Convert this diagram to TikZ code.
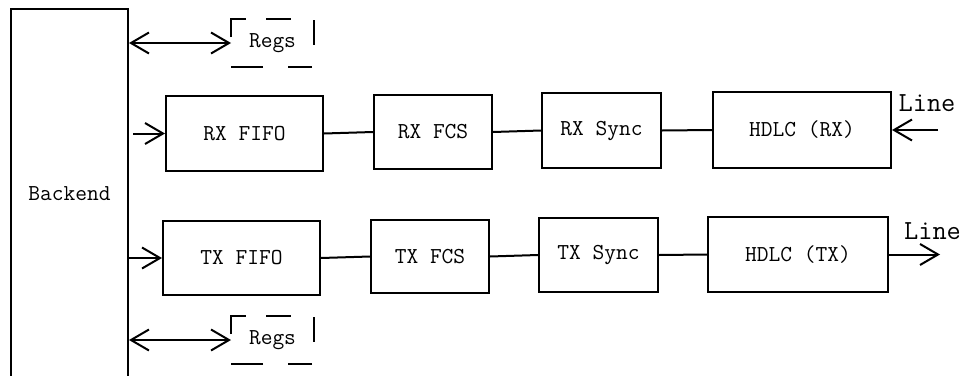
\documentclass[tikz,border=0pt]{standalone}
\usetikzlibrary{arrows.meta,calc}
\begin{document}
\begin{tikzpicture}[x=1pt,y=-1pt,line width=2pt,
  blk/.style={draw,inner sep=0pt,font=\ttfamily\fontsize{22.8}{26}\selectfont},
  regbox/.style={inner sep=0pt,minimum width=81pt,minimum height=46pt,font=\ttfamily\fontsize{22.8}{26}\selectfont},
  lbl/.style={inner sep=0pt,font=\ttfamily\fontsize{27.6}{31}\selectfont},
  regdash/.style={dash pattern=on 25pt off 20pt on 25pt off 24pt on 25pt off 24pt on 24pt off 25pt on 32pt off 30pt},
  sarr/.style={-{Straight Barb[length=18pt,width=21pt]}},
  darr/.style={{Straight Barb[length=18pt,width=21pt]}-{Straight Barb[length=18pt,width=21pt]}}]
\useasboundingbox (0,0) rectangle (966,375);
\clip (0,0) rectangle (966,375);
% backend
\node[blk,minimum width=117pt,minimum height=370pt] (be) at (69.5,194) {Backend};
% regs
\node[regbox] (regsA) at (272.5,43) {Regs};
\node[regbox] (regsB) at (272.5,340) {Regs};
\draw[regdash] (regsA.north west) ++(0,10) -- (regsA.north west) -- (regsA.north east) -- (regsA.south east) -- (regsA.south west) -- cycle;
\draw[regdash] (regsB.north west) ++(0,10) -- (regsB.north west) -- (regsB.north east) -- (regsB.south east) -- (regsB.south west) -- cycle;
\draw[darr] (be.east |- regsA.west) -- (regsA.west);
\draw[darr] (be.east |- regsB.west) -- (regsB.west);
% RX chain
\node[blk,minimum width=157pt,minimum height=75pt] (rxfifo) at (244.5,133.5) {RX FIFO};
\node[blk,minimum width=118pt,minimum height=74pt] (rxfcs) at (433,132) {RX FCS};
\node[blk,minimum width=119pt,minimum height=75pt] (rxsync) at (601.5,130.5) {RX Sync};
\node[blk,minimum width=178pt,minimum height=76pt] (hdlcrx) at (802,130) {HDLC (RX)};
\coordinate (rxstart) at (133,133.5);
\coordinate (rxin) at (938,130);
\draw[sarr] (rxstart) -- (rxfifo.west);
\draw (rxfifo.east) -- (rxfcs.west);
\draw (rxfcs.east) -- (rxsync.west);
\draw (rxsync.east) -- (hdlcrx.west);
\draw[sarr] (rxin) -- (hdlcrx.east);
\node[lbl] (linerx) at (927,103) {Line};
% TX chain
\node[blk,minimum width=157pt,minimum height=74pt] (txfifo) at (241.5,258) {TX FIFO};
\node[blk,minimum width=118pt,minimum height=73pt] (txfcs) at (430,256.5) {TX FCS};
\node[blk,minimum width=119pt,minimum height=74pt] (txsync) at (598.5,255) {TX Sync};
\node[blk,minimum width=180pt,minimum height=75pt] (hdlctx) at (798,254.5) {HDLC (TX)};
\coordinate (txout) at (940,254.5);
\draw[sarr] (be.east |- txfifo.west) -- (txfifo.west);
\draw (txfifo.east) -- (txfcs.west);
\draw (txfcs.east) -- (txsync.west);
\draw (txsync.east) -- (hdlctx.west);
\draw[sarr] (hdlctx.east) -- (txout);
\node[lbl] (linetx) at (932.5,231) {Line};
\end{tikzpicture}
\end{document}
